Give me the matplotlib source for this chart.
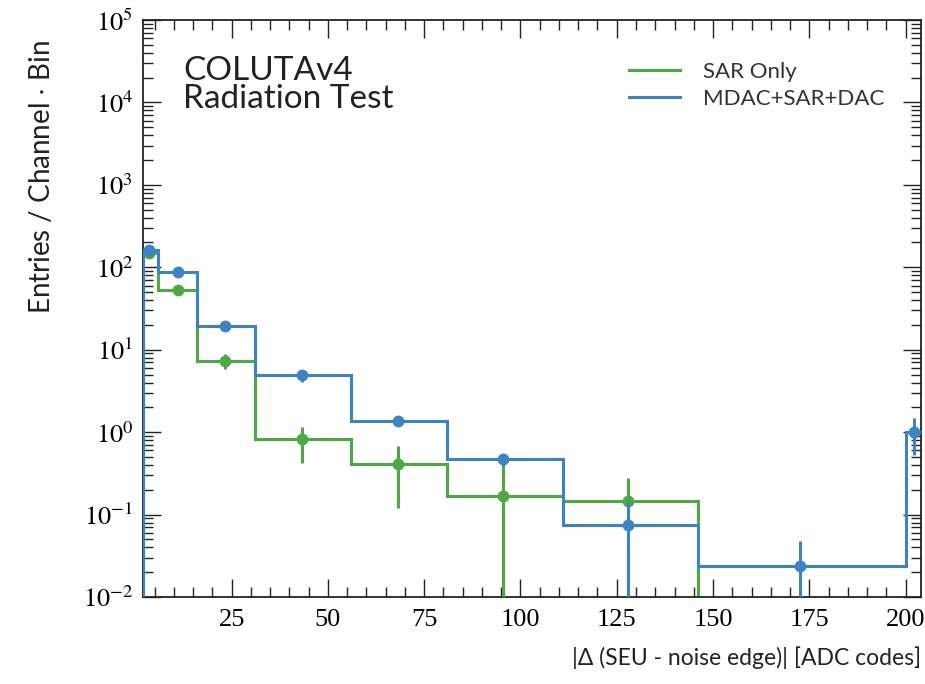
import numpy as np
import matplotlib
matplotlib.use("Agg")
import matplotlib.pyplot as plt
from matplotlib.ticker import LogLocator, MultipleLocator, FixedLocator, NullFormatter

# ---- data ----
edges = [2, 6, 16, 31, 56, 81, 111, 146, 200, 206]
blue_vals = [160, 87, 19.5, 4.9, 1.37, 0.47, 0.074, 0.024, 1.0]
blue_x = [3.6, 11, 23.3, 43.2, 68.1, 95.6, 127.8, 172.6, 202.3]
blue_err_lo = [10, 7, 2.0, 0.8, 0.15, 0.08, 0.074, 0.024, 0.47]
blue_err_hi = [10, 7, 2.0, 0.8, 0.15, 0.08, 0.074, 0.024, 0.47]

green_edges = [2, 6, 16, 31, 56, 81, 111, 146]
green_vals = [150, 53, 7.3, 0.82, 0.41, 0.17, 0.148]
green_x = [3.6, 11, 23.3, 43.2, 68.1, 95.6, 127.8]
green_err_lo = [10, 6, 1.5, 0.40, 0.29, 0.17, 0.148]
green_err_hi = [10, 6, 1.5, 0.34, 0.27, 0.28, 0.13]

labels = ["SAR Only", "MDAC+SAR+DAC"]
xticks = [25, 50, 75, 100, 125, 150, 175, 200]
yticks = [1e-2, 1e-1, 1e0, 1e1, 1e2, 1e3, 1e4, 1e5]

green = "#4ea843"
blue = "#3d82c4"

plt.rcParams["mathtext.fontset"] = "stix"
sans = "Lato"
serif = "Liberation Serif"

fig = plt.figure(figsize=(9.25, 6.84), dpi=100)
ax = fig.add_axes([143/925, 1-597/684, (921-143)/925, (597-20)/684])

ax.set_yscale("log")
ax.set_xlim(2, 204)
ax.set_ylim(1e-2, 1e5)

def clip_lo(vals, lo):
    return [min(l, v - 1e-6) for v, l in zip(vals, lo)]

# green histogram
ax.stairs(green_vals, green_edges, baseline=1e-4, color=green, lw=2.2, label=labels[0], zorder=2)
ax.errorbar(green_x, green_vals, yerr=[clip_lo(green_vals, green_err_lo), green_err_hi],
            fmt="o", color=green, ms=7.5, elinewidth=2.2, capsize=0, zorder=3)

# blue histogram
ax.stairs(blue_vals, edges, baseline=1e-4, color=blue, lw=2.2, label=labels[1], zorder=4)
ax.errorbar(blue_x, blue_vals, yerr=[clip_lo(blue_vals, blue_err_lo), blue_err_hi],
            fmt="o", color=blue, ms=7.5, elinewidth=2.2, capsize=0, zorder=5)

# ticks
ax.xaxis.set_major_locator(FixedLocator(xticks))
ax.xaxis.set_minor_locator(MultipleLocator(5))
ax.set_xticklabels([str(t) for t in xticks])
ax.yaxis.set_major_locator(FixedLocator(yticks))
ax.set_yticklabels([f"$10^{{{int(np.log10(t))}}}$" for t in yticks])
ax.yaxis.set_minor_locator(LogLocator(base=10, subs=np.arange(2, 10), numticks=100))
ax.yaxis.set_minor_formatter(NullFormatter())
ax.tick_params(which="both", direction="in", top=True, right=True, width=1.0, color="#222222")
ax.tick_params(which="major", length=13)
ax.tick_params(which="minor", length=7)
ax.tick_params(axis="x", which="major", pad=9, labelsize=19)
ax.tick_params(axis="y", which="major", pad=7, labelsize=19)
for lab in ax.get_xticklabels() + ax.get_yticklabels():
    lab.set_fontfamily(serif)
for s in ax.spines.values():
    s.set_linewidth(1.3)
    s.set_color("#222222")

ax.set_ylabel("Entries / Channel $\\cdot$ Bin", fontsize=20, family=sans, color="#222222")
ax.yaxis.set_label_coords(-0.113, 0.965)
ax.yaxis.label.set_ha("right")
ax.set_xlabel("|\u0394 (SEU - noise edge)| [ADC codes]", fontsize=16.5, family=sans, color="#222222")
ax.xaxis.set_label_coords(1.0, -0.085)
ax.xaxis.label.set_ha("right")

ax.text(0.052, 0.937, "COLUTAv4\nRadiation Test", transform=ax.transAxes, fontsize=24,
        family=sans, va="top", ha="left", linespacing=0.92, color="#222222")

leg = ax.legend(loc="upper right", bbox_to_anchor=(0.978, 0.962), frameon=False,
                prop={"family": sans, "size": 16}, handlelength=2.3, labelspacing=0.3,
                handletextpad=1.0)
for t in leg.get_texts():
    t.set_color("#333333")

fig.savefig("out.png", dpi=100)
